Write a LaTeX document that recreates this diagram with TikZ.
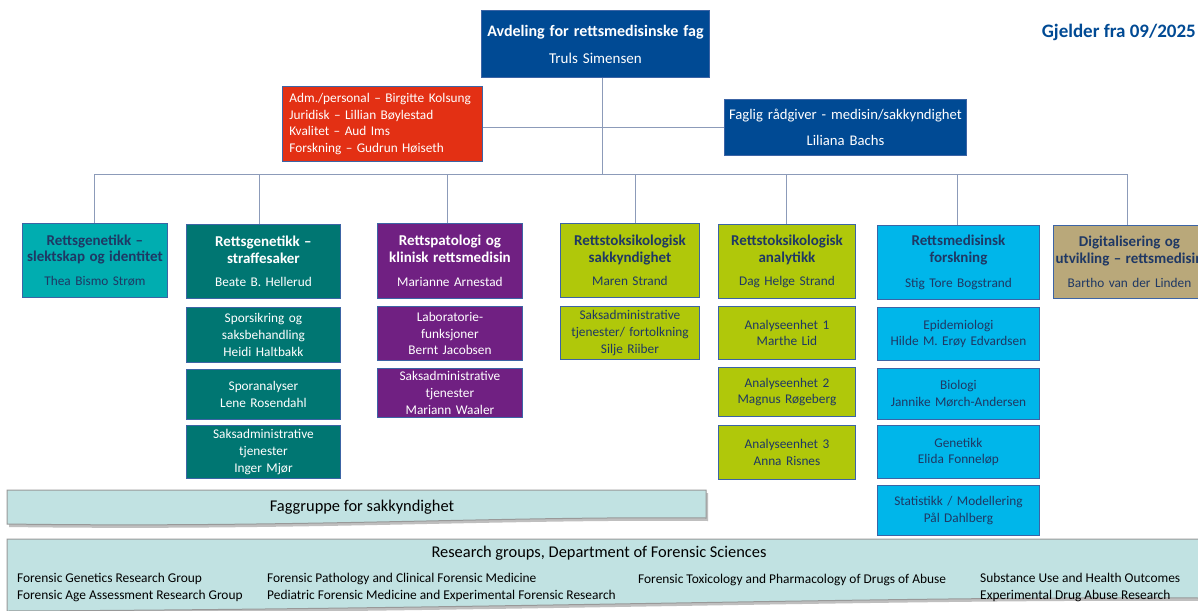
\documentclass[tikz,border=0pt]{standalone}
\usepackage{fontspec}
\setmainfont{Carlito}
\definecolor{dblue}{RGB}{0,74,148}
\definecolor{redbox}{RGB}{227,48,20}
\definecolor{teala}{RGB}{0,173,176}
\definecolor{tealb}{RGB}{0,118,114}
\definecolor{purp}{RGB}{112,32,130}
\definecolor{ygreen}{RGB}{176,200,10}
\definecolor{lblue}{RGB}{0,182,234}
\definecolor{tan}{RGB}{185,168,122}
\definecolor{band}{RGB}{193,226,226}
\definecolor{navy}{RGB}{31,56,100}
\definecolor{conn}{RGB}{140,155,185}
\definecolor{bord}{RGB}{60,100,165}
\newcommand\Hd{\fontsize{15}{18}\selectfont\bfseries}
\newcommand\Nm{\fontsize{13.3}{16.8}\selectfont}
\newcommand\Sm{\fontsize{13.4}{15}\selectfont}
\tikzset{
  box/.style={draw=bord, line width=0.9pt, inner xsep=0pt, inner ysep=0pt,
    anchor=north west, align=center, font=\Nm},
  conline/.style={draw=conn, line width=1pt},
  bandshape/.style={fill=band, draw=gray!80, line width=1pt},
  item/.style={anchor=base west, inner sep=0pt, font=\Sm, text=black}
}
\begin{document}
\begin{tikzpicture}[x=1pt,y=-1pt]
\useasboundingbox[fill=white] (0,0) rectangle (1198,610);

% top boxes
\node[box, fill=dblue, text=white, minimum width=228, minimum height=67, text width=228,
      font=\fontsize{15}{18}\selectfont] (top) at (481,10)
  {{\fontsize{16}{18}\selectfont\bfseries Avdeling for rettsmedisinske fag}\\[9pt]Truls Simensen};
\node[box, fill=redbox, text=white, minimum width=200, minimum height=75, text width=186, align=left, inner xsep=7pt] (adm) at (282,86)
  {Adm./personal -- Birgitte Kolsung\\Juridisk -- Lillian Bøylestad\\Kvalitet -- Aud Ims\\Forskning -- Gudrun Høiseth};
\node[box, fill=dblue, text=white, minimum width=242, minimum height=56, text width=242,
      font=\fontsize{14.7}{17}\selectfont] (fag) at (724,99)
  {Faglig rådgiver - medisin/sakkyndighet\\[9pt]Liliana Bachs};
\node[anchor=east, inner sep=0pt, text=dblue, font=\fontsize{19}{22}\selectfont\bfseries] (gj) at (1196,32) {Gjelder fra 09/2025};

% column heads
\node[box, fill=teala, text=navy, minimum width=145, minimum height=74, text width=145] (c1) at (22,223)
  {{\Hd Rettsgenetikk --\\slektskap og identitet}\\[7pt]Thea Bismo Strøm};
\node[box, fill=tealb, text=white, minimum width=154, minimum height=74, text width=154] (c2) at (186,224)
  {{\Hd Rettsgenetikk --\\straffesaker}\\[7pt]Beate B. Hellerud};
\node[box, fill=purp, text=white, minimum width=145, minimum height=75, text width=145] (c3) at (377,223)
  {{\Hd Rettspatologi og\\klinisk rettsmedisin}\\[7pt]Marianne Arnestad};
\node[box, fill=ygreen, text=navy, minimum width=139, minimum height=74, text width=139] (c4) at (560,223)
  {{\Hd Rettstoksikologisk\\sakkyndighet}\\[7pt]Maren Strand};
\node[box, fill=ygreen, text=navy, minimum width=137, minimum height=74, text width=137] (c5) at (718,224)
  {{\Hd Rettstoksikologisk\\analytikk}\\[7pt]Dag Helge Strand};
\node[box, fill=lblue, text=navy, minimum width=162, minimum height=74, text width=162] (c6) at (877,225)
  {{\Hd Rettsmedisinsk\\forskning}\\[8pt]Stig Tore Bogstrand};
\node[box, fill=tan, text=navy, minimum width=152, minimum height=73, text width=152] (c7) at (1053,225)
  {{\Hd Digitalisering og\\utvikling -- rettsmedisin}\\[7pt]Bartho van der Linden};

% sub boxes column 2
\node[box, fill=tealb, text=white, minimum width=154, minimum height=55, text width=154] (c2a) at (186,307)
  {Sporsikring og\\saksbehandling\\Heidi Haltbakk};
\node[box, fill=tealb, text=white, minimum width=154, minimum height=50, text width=154] (c2b) at (186,369)
  {Sporanalyser\\Lene Rosendahl};
\node[box, fill=tealb, text=white, minimum width=154, minimum height=53, text width=154] (c2c) at (186,425)
  {Saksadministrative\\tjenester\\Inger Mjør};
% column 3
\node[box, fill=purp, text=white, minimum width=145, minimum height=54, text width=145] (c3a) at (377,306)
  {Laboratorie-\\funksjoner\\Bernt Jacobsen};
\node[box, fill=purp, text=white, minimum width=145, minimum height=49, text width=145] (c3b) at (377,368)
  {Saksadministrative\\tjenester\\Mariann Waaler};
% column 4
\node[box, fill=ygreen, text=navy, minimum width=139, minimum height=53, text width=139] (c4a) at (560,306)
  {Saksadministrative\\tjenester/ fortolkning\\Silje Riiber};
% column 5
\node[box, fill=ygreen, text=navy, minimum width=137, minimum height=53, text width=137] (c5a) at (718,306)
  {Analyseenhet 1\\Marthe Lid};
\node[box, fill=ygreen, text=navy, minimum width=137, minimum height=49, text width=137] (c5b) at (718,367)
  {Analyseenhet 2\\Magnus Røgeberg};
\node[box, fill=ygreen, text=navy, minimum width=137, minimum height=54, text width=137] (c5c) at (718,425)
  {Analyseenhet 3\\Anna Risnes};
% column 6
\node[box, fill=lblue, text=navy, minimum width=162, minimum height=53, text width=162] (c6a) at (877,307)
  {Epidemiologi\\Hilde M. Erøy Edvardsen};
\node[box, fill=lblue, text=navy, minimum width=162, minimum height=51, text width=162] (c6b) at (877,368)
  {Biologi\\Jannike Mørch-Andersen};
\node[box, fill=lblue, text=navy, minimum width=162, minimum height=53, text width=162] (c6c) at (877,425)
  {Genetikk\\Elida Fonneløp};
\node[box, fill=lblue, text=navy, minimum width=162, minimum height=50, text width=162] (c6d) at (877,485)
  {Statistikk / Modellering\\Pål Dahlberg};

% connectors
\coordinate (busL) at (94,174);
\coordinate (busR) at (1127,174);
\draw[conline] (busL) -- (busR);
\draw[conline] ([xshift=7pt]top.south) -- ([xshift=7pt]top.south |- busL);
\draw[conline] (fag.west) -- (fag.west -| adm.east);
\draw[conline] (c1.north) -- (c1.north |- busL);
\draw[conline] ([xshift=-4pt]c2.north) -- ([xshift=-4pt]c2.north |- busL);
\draw[conline] ([xshift=-2pt]c3.north) -- ([xshift=-2pt]c3.north |- busL);
\draw[conline] ([xshift=6pt]c4.north) -- ([xshift=6pt]c4.north |- busL);
\draw[conline] (c5.north) -- (c5.north |- busL);
\draw[conline] ([xshift=-1pt]c6.north) -- ([xshift=-1pt]c6.north |- busL);
\draw[conline] ([xshift=-2pt]c7.north) -- ([xshift=-2pt]c7.north |- busL);

% Faggruppe band
\fill[gray!50] (9,493) -- (708,493) -- (708,521) .. controls (500,519) and (300,531) .. (9,527) -- cycle;
\path[bandshape] (7,490) -- (706,490) -- (706,518) .. controls (500,516) and (300,528) .. (7,524) -- cycle;
\node[inner sep=0pt, font=\fontsize{16.4}{19}\selectfont] (fg) at (362,507) {Faggruppe for sakkyndighet};

% Research band
\fill[gray!50] (9,542) -- (1200,542) -- (1200,601) .. controls (900,599) and (500,612) .. (9,614) -- cycle;
\path[bandshape] (7,539) -- (1199,539) -- (1199,598) .. controls (900,596) and (500,609) .. (7,611) -- cycle;
\node[inner sep=0pt, font=\fontsize{16.4}{19}\selectfont] (rg) at (599,553) {Research groups, Department of Forensic Sciences};
\node[item] (r1) at (17,582) {Forensic Genetics Research Group};
\node[item] (r2) at (17,599) {Forensic Age Assessment Research Group};
\node[item] (r3) at (267,582) {Forensic Pathology and Clinical Forensic Medicine};
\node[item] (r4) at (267,599) {Pediatric Forensic Medicine and Experimental Forensic Research};
\node[item] (r5) at (638,583) {Forensic Toxicology and Pharmacology of Drugs of Abuse};
\node[item] (r6) at (980,582) {Substance Use and Health Outcomes};
\node[item] (r7) at (980,599) {Experimental Drug Abuse Research};
\end{tikzpicture}
\end{document}
